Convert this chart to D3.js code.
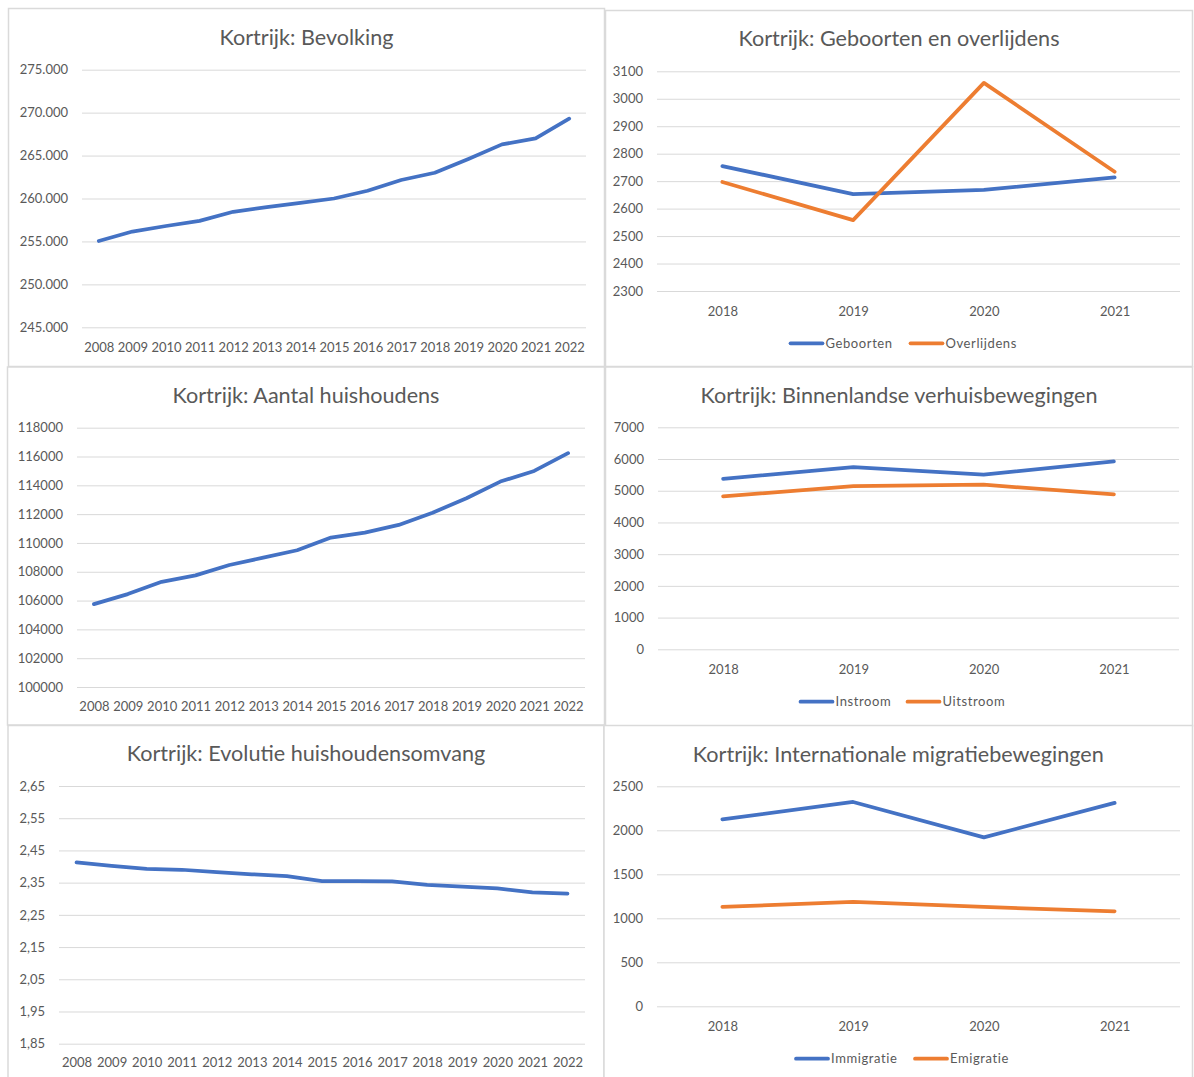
<!DOCTYPE html>
<html>
<head>
<meta charset="utf-8">
<script src="https://cdn.jsdelivr.net/npm/d3@7"></script>
<style>
  html, body { margin: 0; padding: 0; background: #fff; }
  svg { display: block; }
  .title { font-family: Lato, "Open Sans", sans-serif; font-size: 21.6px; fill: #595959; }
  .tick text { font-family: Lato, "Open Sans", sans-serif; font-size: 13px; fill: #595959; }
  .legend text { font-family: Lato, "Open Sans", sans-serif; font-size: 13px; fill: #595959; letter-spacing: 0.6px; }
</style>
</head>
<body>
<svg id="chart" width="1194" height="1077"></svg>
<script>
// Kortrijk — demografische kerncijfers

const yearsLong = [2008, 2009, 2010, 2011, 2012, 2013, 2014, 2015, 2016, 2017, 2018, 2019, 2020, 2021, 2022];
const yearsShort = [2018, 2019, 2020, 2021];

const bevolking = [255050, 256150, 256800, 257400, 258450, 259000, 259500, 260000, 260900, 262150, 263000, 264600, 266300, 267000, 269300];
const huishoudens = [105750, 106450, 107300, 107750, 108470, 108980, 109490, 110370, 110720, 111250, 112100, 113100, 114260, 115000, 116230];
const huishoudensomvang = [2.413, 2.402, 2.393, 2.390, 2.383, 2.376, 2.370, 2.355, 2.355, 2.354, 2.343, 2.338, 2.332, 2.320, 2.316];

const geboorten = [2755, 2653, 2668, 2714];
const overlijdens = [2697, 2558, 3058, 2734];
const instroom = [5375, 5745, 5505, 5925];
const uitstroom = [4821, 5147, 5189, 4884];
const immigratie = [2125, 2322, 1920, 2311];
const emigratie = [1129, 1186, 1129, 1080];

const ticksBevolking = [245000, 250000, 255000, 260000, 265000, 270000, 275000];
const ticksGeboorten = [2300, 2400, 2500, 2600, 2700, 2800, 2900, 3000, 3100];
const ticksHuishoudens = [100000, 102000, 104000, 106000, 108000, 110000, 112000, 114000, 116000, 118000];
const ticksVerhuis = [0, 1000, 2000, 3000, 4000, 5000, 6000, 7000];
const ticksOmvang = [1.85, 1.95, 2.05, 2.15, 2.25, 2.35, 2.45, 2.55, 2.65];
const ticksMigratie = [0, 500, 1000, 1500, 2000, 2500];

const BLUE = "#4472C4";
const ORANGE = "#ED7D31";

const nl = d3.formatLocale({ decimal: ",", thousands: ".", grouping: [3], currency: ["€", ""] });

const svg = d3.select("#chart");

const panels = [
  {
    title: "Kortrijk: Bevolking",
    frame: [8.5, 8.5, 604.5, 366.5], titleY: 37,
    plot: { x0: 82, x1: 586, yTop: 69.7, yBottom: 327.3 }, xLabelY: 347,
    cats: yearsLong, ticks: ticksBevolking, fmt: nl.format(",.0f"),
    series: [{ name: "Bevolking", values: bevolking, color: BLUE }]
  },
  {
    title: "Kortrijk: Geboorten en overlijdens",
    frame: [605.5, 10.5, 1192.5, 366.5], titleY: 38.5,
    plot: { x0: 657, x1: 1180, yTop: 71.3, yBottom: 291 }, xLabelY: 311.5,
    cats: yearsShort, ticks: ticksGeboorten, fmt: d3.format("d"),
    series: [
      { name: "Geboorten", values: geboorten, color: BLUE },
      { name: "Overlijdens", values: overlijdens, color: ORANGE }
    ],
    legend: { y: 343.3, items: [790.5, 910.5] }
  },
  {
    title: "Kortrijk: Aantal huishoudens",
    frame: [7.5, 367, 604.5, 725], titleY: 395,
    plot: { x0: 77, x1: 585, yTop: 427.7, yBottom: 687 }, xLabelY: 706.5,
    cats: yearsLong, ticks: ticksHuishoudens, fmt: d3.format("d"),
    series: [{ name: "Huishoudens", values: huishoudens, color: BLUE }]
  },
  {
    title: "Kortrijk: Binnenlandse verhuisbewegingen",
    frame: [605.5, 367, 1192.5, 726], titleY: 395,
    plot: { x0: 658, x1: 1179, yTop: 427.3, yBottom: 649.3 }, xLabelY: 669,
    cats: yearsShort, ticks: ticksVerhuis, fmt: d3.format("d"),
    series: [
      { name: "Instroom", values: instroom, color: BLUE },
      { name: "Uitstroom", values: uitstroom, color: ORANGE }
    ],
    legend: { y: 701.7, items: [800.5, 907.5] }
  },
  {
    title: "Kortrijk: Evolutie huishoudensomvang",
    frame: [8, 725.5, 604, 1080], titleY: 753.5,
    plot: { x0: 59, x1: 585, yTop: 786, yBottom: 1043.7 }, xLabelY: 1062.5,
    cats: yearsLong, ticks: ticksOmvang, fmt: nl.format(".2f"),
    series: [{ name: "Huishoudensomvang", values: huishoudensomvang, color: BLUE }]
  },
  {
    title: "Kortrijk: Internationale migratiebewegingen",
    frame: [604, 725.5, 1192.5, 1080], titleY: 754,
    plot: { x0: 657, x1: 1180, yTop: 786.3, yBottom: 1006.3 }, xLabelY: 1026,
    cats: yearsShort, ticks: ticksMigratie, fmt: d3.format("d"),
    series: [
      { name: "Immigratie", values: immigratie, color: BLUE },
      { name: "Emigratie", values: emigratie, color: ORANGE }
    ],
    legend: { y: 1058.7, items: [796, 915] }
  }
];

panels.forEach(p => {
  const g = svg.append("g");
  const [fx0, fy0, fx1, fy1] = p.frame;

  // chart area outline
  g.append("rect")
    .attr("x", fx0).attr("y", fy0)
    .attr("width", fx1 - fx0).attr("height", fy1 - fy0)
    .attr("fill", "#fff")
    .attr("stroke", "#DADADA")
    .attr("stroke-width", 1.5);

  const x = d3.scalePoint()
    .domain(p.cats)
    .range([p.plot.x0, p.plot.x1])
    .padding(0.5);

  const y = d3.scaleLinear()
    .domain([d3.min(p.ticks), d3.max(p.ticks)])
    .range([p.plot.yBottom, p.plot.yTop]);

  // title
  g.append("text")
    .attr("class", "title")
    .attr("x", (fx0 + fx1) / 2)
    .attr("y", p.titleY)
    .attr("dy", "0.35em")
    .attr("text-anchor", "middle")
    .text(p.title);

  // value axis with horizontal gridlines
  const yAxis = g.append("g")
    .attr("transform", `translate(${p.plot.x0},0)`)
    .call(d3.axisLeft(y)
      .tickValues(p.ticks)
      .tickFormat(p.fmt)
      .tickSizeInner(-(p.plot.x1 - p.plot.x0))
      .tickSizeOuter(0)
      .tickPadding(14));
  yAxis.select(".domain").remove();
  yAxis.selectAll(".tick line").attr("stroke", "#D9D9D9").attr("stroke-width", 1);
  yAxis.selectAll(".tick text").attr("fill", "#595959");

  // category axis (labels only)
  const xAxis = g.append("g")
    .attr("transform", `translate(0,${p.xLabelY})`)
    .call(d3.axisBottom(x).tickSize(0).tickPadding(0).tickFormat(d3.format("d")));
  xAxis.select(".domain").remove();
  xAxis.selectAll(".tick text").attr("dy", "0.35em").attr("fill", "#595959");

  // series lines
  const line = d3.line()
    .x((d, i) => x(p.cats[i]))
    .y(d => y(d));

  p.series.forEach(s => {
    g.append("path")
      .datum(s.values)
      .attr("fill", "none")
      .attr("stroke", s.color)
      .attr("stroke-width", 3.75)
      .attr("stroke-linejoin", "round")
      .attr("stroke-linecap", "round")
      .attr("d", line);
  });

  // legend
  if (p.legend) {
    const lg = g.append("g").attr("class", "legend");
    p.series.forEach((s, i) => {
      const lx = p.legend.items[i];
      lg.append("line")
        .attr("x1", lx).attr("x2", lx + 32)
        .attr("y1", p.legend.y).attr("y2", p.legend.y)
        .attr("stroke", s.color)
        .attr("stroke-width", 3.75)
        .attr("stroke-linecap", "round");
      lg.append("text")
        .attr("x", lx + 35)
        .attr("y", p.legend.y)
        .attr("dy", "0.35em")
        .text(s.name);
    });
  }
});
</script>
</body>
</html>
